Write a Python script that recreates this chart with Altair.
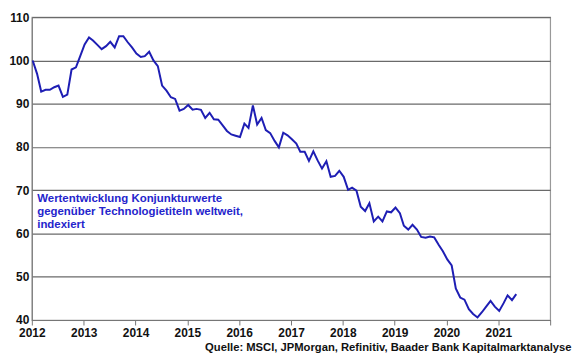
import altair as alt
import pandas as pd

# Monthly index values, Jan 2012 onward
values = [
    100.0, 96.9, 92.8, 93.2, 93.2, 93.8, 94.2, 91.6, 92.1, 97.9, 98.4, 101.0,
    103.7, 105.3, 104.6, 103.6, 102.6, 103.3, 104.3, 103.0, 105.6, 105.6, 104.2, 103.0,
    101.6, 100.8, 101.0, 102.0, 100.0, 98.7, 94.2, 93.0, 91.5, 91.1, 88.4, 88.8,
    89.7, 88.6, 88.8, 88.6, 86.7, 87.9, 86.4, 86.3, 85.0, 83.7, 82.9, 82.6,
    82.3, 85.4, 84.4, 89.6, 85.2, 86.7, 83.9, 83.2, 81.4, 79.9, 83.3, 82.7,
    81.8, 80.8, 78.9, 78.9, 76.8, 79.0, 76.9, 75.0, 76.7, 73.1, 73.3, 74.5,
    73.1, 70.1, 70.6, 69.9, 66.2, 65.2, 67.0, 62.8, 63.9, 62.8, 65.1, 64.9,
    66.0, 64.7, 61.8, 60.9, 62.0, 60.9, 59.2, 59.0, 59.3, 59.1, 57.4, 55.9,
    54.0, 52.6, 47.3, 45.2, 44.7, 42.5, 41.4, 40.6, 41.8, 43.1, 44.4, 43.1,
    42.1, 43.9, 45.7, 44.6, 46.0,
]
dates = pd.date_range("2012-01-01", periods=len(values), freq="MS") + pd.Timedelta(days=6)

note_lines = ["Wertentwicklung Konjunkturwerte",
              "gegenüber Technologietiteln weltweit,",
              "indexiert"]
note_y = [68.0, 65.0, 62.0]
note_x = ["2012-02-08"] * 3

source_text = "Quelle: MSCI, JPMorgan, Refinitiv, Baader Bank Kapitalmarktanalyse"

df = pd.DataFrame({"date": dates, "value": values})
notes = pd.DataFrame({"date": pd.to_datetime(note_x), "value": note_y, "text": note_lines})

FONT = "Liberation Sans"

x_scale = alt.Scale(domain=[pd.Timestamp("2012-01-01").isoformat(), pd.Timestamp("2022-01-01").isoformat()])
y_scale = alt.Scale(domain=[40, 110])

line = alt.Chart(df).mark_line(color="#1e1eb4", strokeWidth=2).encode(
    x=alt.X("date:T", scale=x_scale, title=None,
            axis=alt.Axis(tickCount={"interval": "year", "step": 1}, grid=False,
                          labelExpr="year(datum.value) == 2022 ? '' : timeFormat(datum.value, '%Y')",
                          labelFlush=False, labelOverlap=False,
                          labelFont=FONT, labelFontSize=12, labelFontWeight="bold",
                          labelColor="#111", domainColor="#777", tickColor="#777",
                          tickSize=5, labelPadding=3)),
    y=alt.Y("value:Q", scale=y_scale, title=None,
            axis=alt.Axis(values=[40, 50, 60, 70, 80, 90, 100, 110], grid=True,
                          gridColor="#6a6a6a", gridWidth=1.2, domainColor="#777",
                          ticks=False, labelPadding=3,
                          labelFont=FONT, labelFontSize=12, labelFontWeight="bold",
                          labelColor="#111")),
)

text = alt.Chart(notes).mark_text(align="left", baseline="middle", font=FONT,
                                  fontSize=11.5, fontWeight="bold", color="#2424cc").encode(
    x=alt.X("date:T", scale=x_scale),
    y=alt.Y("value:Q", scale=y_scale),
    text="text:N",
)

chart = (line + text).properties(
    width=522, height=305,
    autosize=alt.AutoSizeParams(type="none"),
    padding={"left": 24, "top": 8, "right": 22, "bottom": 36},
    title=alt.TitleParams(text=source_text, orient="bottom", anchor="end", dx=21,
                          font=FONT, fontSize=11.3, fontWeight="bold", color="#111", offset=3),
).configure_view(stroke="#999", strokeWidth=1.2)

chart.save("out.html", embed_options={"renderer": "svg", "actions": False})
